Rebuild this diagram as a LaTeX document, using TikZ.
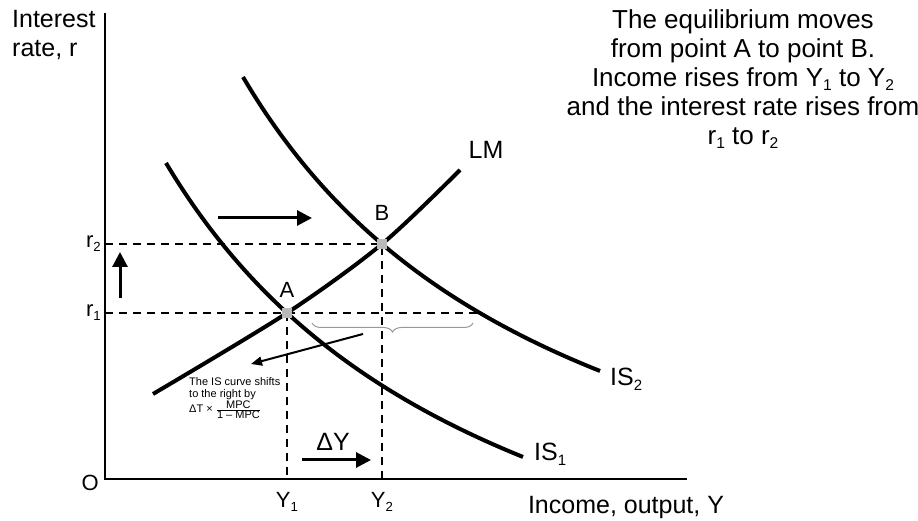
\documentclass[tikz,border=0pt]{standalone}
\usepackage{fontspec}
\setmainfont{Liberation Sans}
\usetikzlibrary{arrows.meta,positioning,decorations.pathreplacing}
\newcommand{\lo}[1]{\raisebox{-0.35ex}{\scalebox{0.6}{#1}}}

\begin{document}
\begin{tikzpicture}[
  x=1pt,y=1pt,
  big/.style={font=\fontsize{25}{29}\selectfont,inner sep=1pt},
  lbl/.style={font=\fontsize{22}{26}\selectfont,inner sep=1pt},
  note/.style={font=\fontsize{11}{12.5}\selectfont,inner sep=1pt,align=left},
  curve/.style={line width=4pt},
  axis/.style={line width=2.6pt},
  guide/.style={line width=1.3pt,dash pattern=on 8pt off 6pt},
  eqpt/.style={fill=gray!55,minimum size=10pt,inner sep=0pt},
  ar/.style={-{Triangle[length=15pt,width=15pt]},line width=3pt},
  thinar/.style={-{Triangle[length=11pt,width=9pt]},line width=2pt},
  brace/.style={decorate,decoration={brace,mirror,amplitude=9pt},
                gray!80,line width=1pt}
]
\useasboundingbox (-105,-42) rectangle (813,479);
\coordinate (O) at (0,0);
\coordinate (ytop) at (0,466);
\coordinate (xend) at (582,0);
\coordinate (pa) at (182,166);
\coordinate (pb) at (277,235);

% curves
\draw[curve] plot[smooth] coordinates {(48,85) (pa) (pb) (355,309)};
\draw[curve] plot[domain=61:418,samples=80] (\x,{-262.9+2003.08/((\x+285)/100)});
\draw[curve] plot[domain=138:495,samples=80] (\x,{-168.7+1917.5/((\x+198)/100)});

% guides
\draw[guide] (O|-pb) -- (pb) -- (pb|-O);
\draw[guide] (O|-pa) -- (375,166);
\draw[guide] (pa) -- (pa|-O);
\draw[axis] (ytop) -- (O) -- (xend);

\node[eqpt] (A) at (pa) {};
\node[eqpt] (B) at (pb) {};
\node[lbl,above=9pt of A] (alab) {A};
\node[lbl,above=17pt of B] (blab) {B};

\node[big] (lm) at (381,329) {LM};
\node[big,anchor=west] (is1) at (428,25) {IS\lo{1}};
\node[big,anchor=west] (is2) at (504,100) {IS\lo{2}};

\node[lbl,left=3pt of O|-pb] (r2) {r\lo{2}};
\node[lbl,left=3pt of O|-pa] (r1) {r\lo{1}};
\node[lbl,anchor=north east] (olab) at (-5,5) {O};
\node[lbl,anchor=north] (y1) at (pa|-0,-12) {Y\lo{1}};
\node[lbl,anchor=north] (y2) at (pb|-0,-12) {Y\lo{2}};

\node[big,anchor=north west,align=left] (ylab) at (-94,470) {Interest\\rate, r};
\node[big] (xlab) at (521,-28) {Income, output, Y};
\node[big,font=\fontsize{26}{29}\selectfont,anchor=north,align=center] (story)
  at (638,471)
  {The equilibrium moves\\ from point A to point B.\\
   Income rises from Y\lo{1} to Y\lo{2}\\ and the interest rate rises from\\
   r\lo{1} to r\lo{2}};

% shifts
\coordinate (s1) at (113,261); \coordinate (s2) at (207,261);
\draw[ar] (s1) -- (s2);
\coordinate (u1) at (15,181); \coordinate (u2) at (15,227);
\draw[ar] (u1) -- (u2);
\coordinate (d1) at (197,19); \coordinate (d2) at (266,19);
\draw[ar] (d1) -- (d2);
\node[big] (dy) at (228,37) {ΔY};

\draw[brace] (207,156) -- (368,156);
\coordinate (n1) at (258,145); \coordinate (n2) at (146,115);
\draw[thinar] (n1) -- (n2);
\node[note,anchor=north west] (shift) at (83,103)
  {The IS curve shifts\\ to the right by\\
   ΔT × $\frac{\mbox{MPC}}{\mbox{1 – MPC}}$};
\end{tikzpicture}
\end{document}
